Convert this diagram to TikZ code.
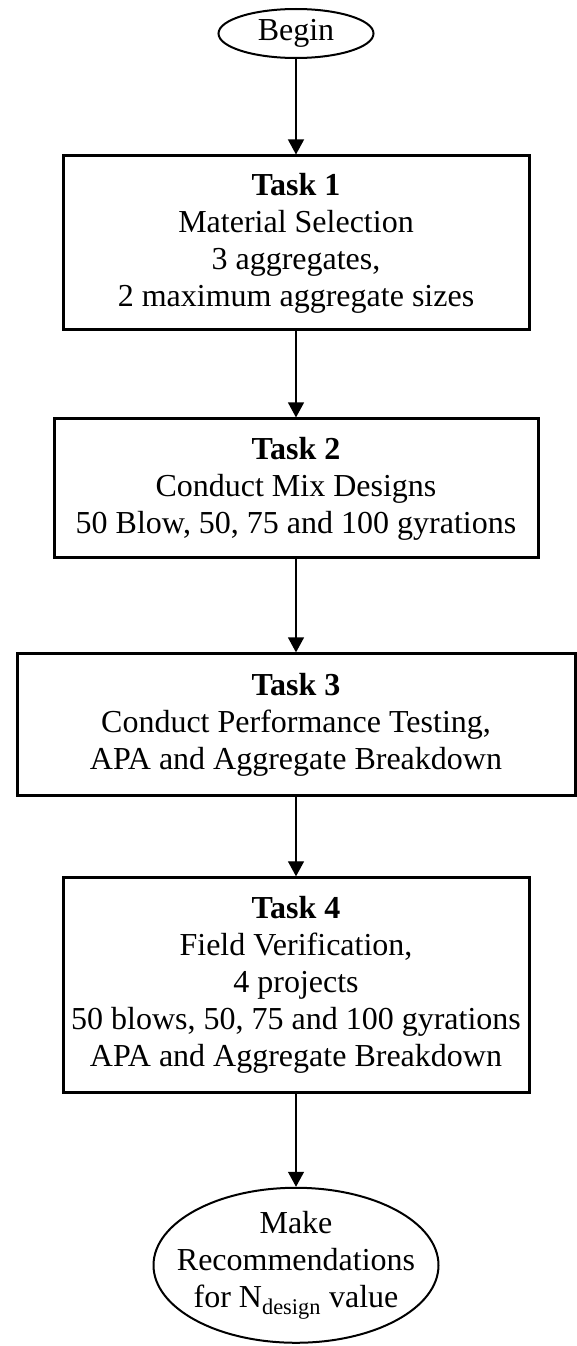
\documentclass[tikz,border=0pt]{standalone}
\usepackage{fontspec}
\setmainfont{Liberation Serif}
\usetikzlibrary{shapes.geometric, arrows.meta, positioning}
\begin{document}
\begin{tikzpicture}[x = 1pt, y = 1pt]
    \tikzstyle{arrow} = [line width = 1.3pt, -{Triangle[length = 15pt, width = 16pt]}]
    \tikzstyle{task} = [rectangle, line width = 3pt, text centered, align = center, inner sep = 0pt, draw = black, font = \fontsize{32}{37}\selectfont]
    \tikzstyle{oval} = [ellipse, line width = 2pt, text centered, align = center, inner xsep = -20pt, inner ysep = 0pt, draw = black, font = \fontsize{32}{37}\selectfont]
    \useasboundingbox (0,0) rectangle (577,-1346);

    \node[oval, minimum width = 155pt, minimum height = 49pt](Begin) at (296,-33.5){Begin};
    \node[task, below of = Begin, yshift = -181pt, minimum width = 466pt, minimum height = 174pt](T1){\textbf{Task 1}\\Material Selection\\3 aggregates,\\2 maximum aggregate sizes};
    \node[task, below of = T1, yshift = -217pt, minimum width = 484pt, minimum height = 139pt](T2){\textbf{Task 2}\\Conduct Mix Designs\\50 Blow, 50, 75 and 100 gyrations};
    \node[task, below of = T2, yshift = -208pt, minimum width = 558pt, minimum height = 142pt](T3){\textbf{Task 3}\\Conduct Performance Testing,\\APA and Aggregate Breakdown};
    \node[task, below of = T3, yshift = -232pt, minimum width = 466pt, minimum height = 215pt](T4){\textbf{Task 4}\\Field Verification,\\4 projects\\50 blows, 50, 75 and 100 gyrations\\APA and Aggregate Breakdown};
    \node[oval, below of = T4, yshift = -251.5pt, minimum width = 285pt, minimum height = 155pt](End){Make\\Recommendations\\for N\textsubscript{design} value};

    \draw[arrow] (Begin)--(T1);
    \draw[arrow] (T1)--(T2);
    \draw[arrow] (T2)--(T3);
    \draw[arrow] (T3)--(T4);
    \draw[arrow] (T4)--(End);

\end{tikzpicture}
\end{document}
